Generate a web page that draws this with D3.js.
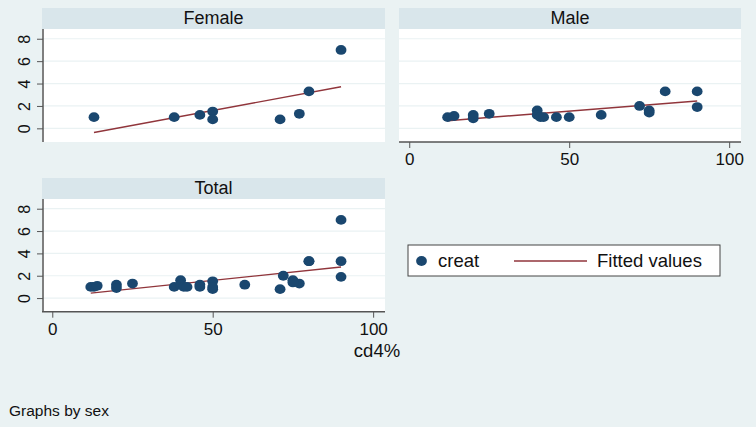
<!DOCTYPE html>
<html>
<head>
<meta charset="utf-8">
<script src="https://cdn.jsdelivr.net/npm/d3@7"></script>
<style>
  body { margin: 0; background: #eaf2f3; }
  svg { display: block; font-family: "Liberation Sans", Arial, sans-serif; }
</style>
</head>
<body>
<svg id="chart" width="756" height="427"></svg>
<script>
// data
const panelNames = ["Female", "Male", "Total"];

const femaleCd4   = [13, 38, 46, 50, 50, 71, 77, 80, 90];
const femaleCreat = [1.0, 1.0, 1.2, 1.5, 0.8, 0.8, 1.3, 3.3, 7.0];

const maleCd4   = [12, 14, 20, 20, 25, 40, 40, 41, 42, 46, 50, 60, 72, 75, 75, 80, 90, 90];
const maleCreat = [1.0, 1.1, 1.2, 0.9, 1.3, 1.6, 1.2, 1.0, 1.0, 1.0, 1.0, 1.2, 2.0, 1.6, 1.4, 3.3, 3.3, 1.9];

// fitted values (ends of the line)
const femaleFitX = [13, 90], femaleFitY = [-0.37, 3.71];
const maleFitX   = [12, 90], maleFitY   = [0.68, 2.44];
const totalFitX  = [12, 90], totalFitY  = [0.44, 2.78];

const xTicks = [0, 50, 100];
const yTicks = [0, 2, 4, 6, 8];

const bg = "#eaf2f3", stripFill = "#d9e6eb", markerColor = "#1a476f", fitColor = "#90353b";

let svg = d3.select("#chart");
svg.append("rect").attr("width", 756).attr("height", 427).attr("fill", bg);

// panel layout
let cols = [[42, 385], [399, 741]];
let rows = [{strip: 8, top: 29, bottom: 142}, {strip: 178, top: 199, bottom: 311.7}];

let panels = [
    {name: panelNames[0], col: 0, row: 0, x: femaleCd4, y: femaleCreat, fx: femaleFitX, fy: femaleFitY, yAxis: true, xAxis: false},
    {name: panelNames[1], col: 1, row: 0, x: maleCd4, y: maleCreat, fx: maleFitX, fy: maleFitY, yAxis: false, xAxis: true},
    {name: panelNames[2], col: 0, row: 1, x: femaleCd4.concat(maleCd4), y: femaleCreat.concat(maleCreat), fx: totalFitX, fy: totalFitY, yAxis: true, xAxis: true}
];

panels.forEach(p => {
    let c = cols[p.col], r = rows[p.row];
    let xScale = d3.scaleLinear().domain([-3.2, 103.7]).range(c);
    let yScale = d3.scaleLinear().domain([-1.22, 8.87]).range([r.bottom, r.top]);

    let g = svg.append("g");

    // strip
    g.append("rect").attr("x", c[0]).attr("y", r.strip)
        .attr("width", c[1] - c[0]).attr("height", r.top - r.strip).attr("fill", stripFill);
    g.append("text").attr("x", (c[0] + c[1]) / 2).attr("y", r.strip + 16)
        .attr("text-anchor", "middle").attr("font-size", 18).attr("fill", "#111")
        .text(p.name);

    // plot region
    g.append("rect").attr("x", c[0]).attr("y", r.top)
        .attr("width", c[1] - c[0]).attr("height", r.bottom - r.top).attr("fill", "#fff");

    // grid
    g.selectAll(".grid").data(yTicks).enter().append("line")
        .attr("x1", c[0]).attr("x2", c[1])
        .attr("y1", d => yScale(d)).attr("y2", d => yScale(d))
        .attr("stroke", bg).attr("stroke-width", 1.2);

    // y axis
    if (p.yAxis) {
        let yAxis = d3.axisLeft(yScale).tickValues(yTicks).tickSize(6).tickPadding(7);
        let ya = g.append("g").attr("transform", `translate(${c[0] + 1},0)`).call(yAxis);
        ya.select(".domain").attr("d", `M0,${r.top}V${r.bottom}`).attr("stroke", "#555").attr("stroke-width", 1.5);
        ya.selectAll(".tick line").attr("stroke", "#555");
        ya.selectAll(".tick text")
            .attr("font-size", 16).attr("fill", "#111")
            .attr("x", null).attr("dy", null)
            .attr("text-anchor", "middle")
            .attr("transform", "translate(-13.5,0) rotate(-90)");
    }

    // x axis
    if (p.xAxis) {
        let xAxis = d3.axisBottom(xScale).tickValues(xTicks).tickSize(6).tickPadding(5);
        let xa = g.append("g").attr("transform", `translate(0,${r.bottom})`).call(xAxis);
        xa.select(".domain").attr("d", `M${c[0]},0H${c[1]}`).attr("stroke", "#555").attr("stroke-width", 1.5);
        xa.selectAll(".tick line").attr("stroke", "#555");
        xa.selectAll(".tick text").attr("font-size", 17).attr("fill", "#111").attr("dy", "0.72em");
    }

    // fitted line
    let fitData = p.fx.map((d, i) => [d, p.fy[i]]);
    g.append("path").datum(fitData)
        .attr("d", d3.line().x(d => xScale(d[0])).y(d => yScale(d[1])))
        .attr("fill", "none").attr("stroke", fitColor).attr("stroke-width", 1.4);

    // markers
    g.selectAll(".pt").data(p.x.map((d, i) => [d, p.y[i]])).enter().append("ellipse")
        .attr("cx", d => xScale(d[0])).attr("cy", d => yScale(d[1]))
        .attr("rx", 5.4).attr("ry", 4.9)
        .attr("fill", markerColor);
});

// x title under Total
svg.append("text").attr("x", 377).attr("y", 357).attr("text-anchor", "middle")
    .attr("font-size", 18.5).attr("fill", "#111").text("cd4%");

// legend
let lg = svg.append("g");
lg.append("rect").attr("x", 408).attr("y", 245).attr("width", 312).attr("height", 31)
    .attr("fill", "#fff").attr("stroke", "#444").attr("stroke-width", 1);
lg.append("ellipse").attr("cx", 421.5).attr("cy", 261).attr("rx", 5.4).attr("ry", 4.9).attr("fill", markerColor);
lg.append("text").attr("x", 438).attr("y", 267).attr("font-size", 18.5).attr("fill", "#111").text("creat");
lg.append("line").attr("x1", 514).attr("x2", 587).attr("y1", 261).attr("y2", 261)
    .attr("stroke", fitColor).attr("stroke-width", 1.4);
lg.append("text").attr("x", 597).attr("y", 267).attr("font-size", 18.5).attr("fill", "#111").text("Fitted values");

// note
svg.append("text").attr("x", 9).attr("y", 416).attr("font-size", 15.5).attr("fill", "#111").text("Graphs by sex");
</script>
</body>
</html>
